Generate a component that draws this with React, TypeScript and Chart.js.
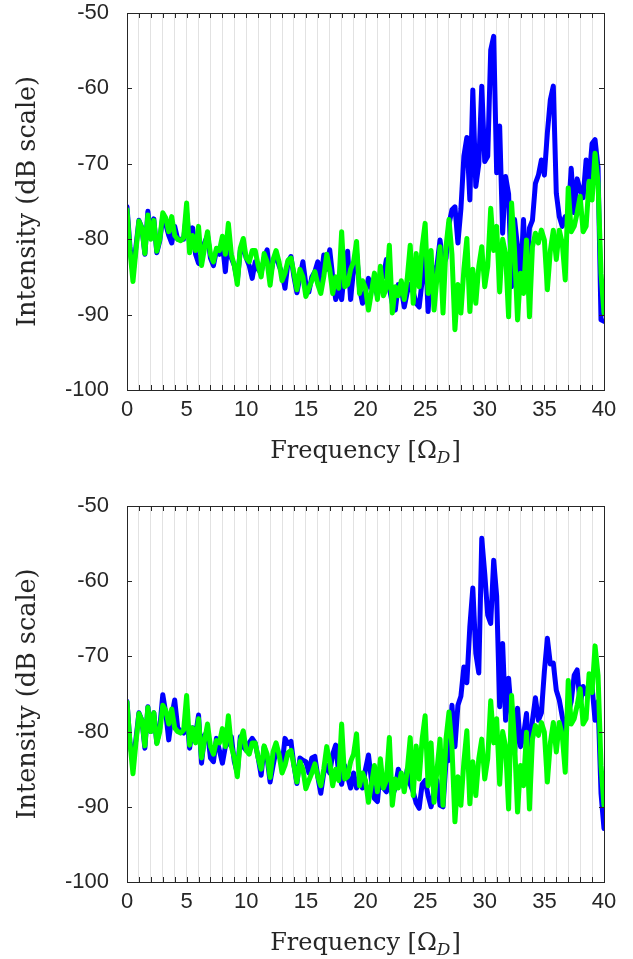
import React, { useEffect, useRef } from 'react';
import { Chart, registerables } from 'chart.js';

Chart.register(...registerables);

// Frequency grid (Omega_D), 0 .. 40 in steps of 0.25
const FREQ_STEP = 0.25;
const FREQ: number[] = Array.from({ length: 161 }, (_, i) => i * FREQ_STEP);

const X_LABEL_TICKS = [0, 5, 10, 15, 20, 25, 30, 35, 40];
const Y_TICKS = [-100, -90, -80, -70, -60, -50];

// Top panel, blue trace (dB)
const BLUE_TOP = [
  -75.7, -81.0, -84.5, -81.0, -77.5, -78.5, -82.0, -76.3, -79.5, -77.3,
  -81.8, -80.2, -77.0, -78.0, -79.5, -80.5, -78.3, -80.0, -80.0, -80.0,
  -76.5, -80.5, -78.5, -82.0, -83.2, -82.0, -80.5, -79.5, -82.5, -83.5,
  -81.5, -82.0, -80.5, -84.3, -79.5, -82.5, -83.5, -85.5, -81.5, -81.0,
  -82.5, -83.5, -85.2, -83.0, -84.0, -84.5, -82.5, -81.4, -85.0, -83.0,
  -82.0, -83.5, -84.5, -86.5, -83.0, -82.3, -85.0, -87.1, -85.0, -83.0,
  -86.0, -87.0, -85.0, -84.3, -83.0, -85.5, -82.1, -84.0, -81.4, -85.0,
  -88.0, -86.5, -88.0, -84.0, -81.6, -88.0, -84.0, -81.8, -86.5, -88.5,
  -87.0, -85.2, -86.5, -86.0, -87.5, -84.5, -85.0, -82.7, -86.5, -88.5,
  -89.4, -86.0, -86.5, -89.0, -87.0, -86.0, -87.0, -88.5, -89.0, -85.5,
  -80.5, -89.6, -84.0, -84.5, -83.4, -80.1, -83.5, -82.5, -78.0, -76.1,
  -75.7, -80.5, -76.0, -69.0, -66.5, -74.8, -60.2, -73.0, -70.0, -59.7,
  -69.7, -69.0, -54.9, -53.1, -71.2, -65.0, -79.2, -71.7, -74.0, -86.3,
  -77.4, -81.0, -85.4, -77.4, -86.3, -78.5, -77.5, -72.6, -71.5, -69.5,
  -71.5, -65.9, -61.5, -59.7, -73.9, -77.0, -78.3, -77.0, -77.0, -70.6,
  -76.5, -72.0, -73.5, -74.5, -69.5, -72.0, -67.3, -66.8, -70.5, -90.7,
  -90.9,
];

// Green trace (dB) - the same in both panels
const GREEN = [
  -76.1, -81.5, -85.6, -81.5, -77.6, -78.5, -81.9, -76.8, -80.0, -77.5,
  -81.6, -80.0, -76.5, -77.2, -79.0, -77.0, -79.5, -80.0, -80.2, -79.8,
  -75.2, -81.8, -79.5, -81.5, -78.3, -83.5, -81.2, -79.0, -82.0, -83.0,
  -81.2, -81.5, -79.6, -82.0, -77.9, -82.0, -83.5, -86.0, -81.2, -79.9,
  -82.5, -83.0, -81.5, -81.5, -83.5, -85.0, -81.9, -83.0, -86.1, -82.7,
  -81.5, -83.0, -85.5, -84.5, -82.8, -82.5, -84.5, -86.7, -84.0, -85.0,
  -87.6, -86.5, -85.5, -84.3, -86.0, -87.2, -85.0, -82.0, -84.0, -87.2,
  -85.0, -86.5, -79.0, -86.3, -86.0, -84.0, -83.0, -80.3, -87.2, -85.5,
  -86.5, -89.4, -87.0, -84.5, -88.0, -83.6, -87.5, -86.5, -80.8, -89.8,
  -86.3, -87.5, -85.5, -88.0, -85.2, -80.8, -88.5, -81.9, -86.3, -81.0,
  -77.9, -87.2, -81.5, -89.4, -85.0, -81.0, -89.8, -81.0, -77.4, -82.0,
  -92.0, -86.0, -89.8, -84.0, -79.9, -89.6, -84.0, -88.5, -83.6, -81.0,
  -86.3, -83.6, -75.9, -81.5, -78.3, -87.0, -80.0, -82.0, -90.3, -75.2,
  -81.5, -90.7, -84.5, -87.2, -80.1, -90.3, -81.0, -79.2, -80.5, -78.8,
  -80.1, -86.7, -81.5, -78.8, -82.7, -78.8, -80.5, -85.4, -73.2, -79.0,
  -78.3, -76.5, -74.3, -79.0, -78.3, -72.3, -74.8, -68.6, -72.5, -84.5,
  -89.8,
];

// Bottom panel, blue trace (dB)
const BLUE_BOTTOM = [
  -76.0, -81.5, -84.0, -81.0, -77.5, -78.5, -82.2, -76.7, -80.0, -77.5,
  -81.5, -79.5, -75.1, -77.5, -81.1, -78.0, -75.8, -79.5, -80.0, -80.2,
  -77.5, -82.2, -79.5, -80.5, -77.8, -84.2, -80.5, -80.0, -83.5, -84.0,
  -80.9, -82.5, -84.2, -82.0, -81.5, -80.7, -84.0, -85.5, -80.7, -82.0,
  -82.5, -81.5, -80.9, -81.5, -83.5, -85.8, -82.0, -83.5, -86.7, -84.5,
  -82.5, -83.0, -84.5, -80.9, -81.6, -81.3, -84.5, -86.9, -83.5, -83.8,
  -84.0, -85.5, -83.5, -83.3, -86.0, -88.2, -85.5, -84.5, -85.5, -83.0,
  -81.8, -85.5, -87.0, -84.5, -86.0, -87.5, -85.5, -87.5, -86.5, -87.5,
  -85.0, -83.1, -86.5, -88.9, -89.3, -85.0, -87.5, -88.0, -86.5, -88.5,
  -87.5, -85.0, -86.5, -87.5, -85.0, -87.0, -88.0, -89.5, -90.2, -87.0,
  -86.5, -88.5, -90.0, -88.0, -86.5, -89.8, -90.0, -84.0, -83.8, -76.5,
  -82.0, -76.5, -75.3, -71.4, -73.5, -66.0, -60.9, -69.6, -72.2, -54.3,
  -59.0, -64.5, -65.6, -57.2, -62.0, -76.7, -68.3, -78.5, -72.9, -78.0,
  -82.9, -76.9, -82.0, -80.5, -77.6, -84.4, -78.5, -75.5, -78.5, -77.5,
  -72.0, -67.6, -71.0, -70.9, -74.5, -75.8, -78.0, -80.0, -77.5, -76.0,
  -72.5, -71.8, -76.5, -74.0, -75.0, -74.5, -74.0, -78.5, -76.0, -88.2,
  -92.9,
];

const AXIS_COLOR = '#262626';
const TICK_FONT = { family: '"Liberation Sans", Arial, Helvetica, sans-serif', size: 22 };
const TITLE_FAMILY = '"DejaVu Serif", "Liberation Serif", serif';
const TITLE_SIZE = 24;
const YTITLE_SIZE = 25.5;

const matlabAxes = {
  id: 'matlabAxes',
  afterDraw(chart: any) {
    const { ctx, chartArea } = chart;
    const xs = chart.scales.x;
    const ys = chart.scales.y;
    const { left, right, top, bottom } = chartArea;
    ctx.save();
    ctx.strokeStyle = AXIS_COLOR;
    ctx.lineWidth = 1;
    ctx.beginPath();
    // inward minor ticks on top & bottom, every 1 unit
    for (let v = 0; v <= 40; v += 1) {
      const px = Math.round(xs.getPixelForValue(v)) + 0.5;
      ctx.moveTo(px, bottom);
      ctx.lineTo(px, bottom - 5);
      ctx.moveTo(px, top);
      ctx.lineTo(px, top + 5);
    }
    for (const v of Y_TICKS) {
      const py = Math.round(ys.getPixelForValue(v)) + 0.5;
      ctx.moveTo(left, py);
      ctx.lineTo(left + 5, py);
      ctx.moveTo(right, py);
      ctx.lineTo(right - 5, py);
    }
    ctx.stroke();
    ctx.strokeRect(Math.round(left) + 0.5, Math.round(top) + 0.5, Math.round(right - left), Math.round(bottom - top));

    // x-axis title with subscript
    const cx = (left + right) / 2;
    const cy = bottom + 60;
    const mainFont = `${TITLE_SIZE}px ${TITLE_FAMILY}`;
    const subFont = `italic ${Math.round(TITLE_SIZE * 0.72)}px ${TITLE_FAMILY}`;
    const p1 = 'Frequency [Ω';
    const p2 = 'D';
    const p3 = ']';
    ctx.font = mainFont;
    const w1 = ctx.measureText(p1).width;
    const w3 = ctx.measureText(p3).width;
    ctx.font = subFont;
    const w2 = ctx.measureText(p2).width;
    const total = w1 + w2 + 1 + w3;
    let x0 = cx - total / 2;
    ctx.fillStyle = AXIS_COLOR;
    ctx.textBaseline = 'alphabetic';
    ctx.textAlign = 'left';
    const base = cy + 8;
    ctx.font = mainFont;
    ctx.fillText(p1, x0, base);
    x0 += w1;
    ctx.font = subFont;
    ctx.fillText(p2, x0, base + 5);
    x0 += w2 + 1;
    ctx.font = mainFont;
    ctx.fillText(p3, x0, base);
    ctx.restore();
  },
};

function makeConfig(blue: number[], green: number[], padTop: number, xAxisHeight: number): any {
  const pts = (arr: number[]) => FREQ.map((f, i) => ({ x: f, y: arr[i] }));
  const lineStyle = {
    borderWidth: 5,
    pointRadius: 0,
    tension: 0,
    borderJoinStyle: 'round',
    borderCapStyle: 'round',
    fill: false,
  };
  return {
    type: 'line',
    data: {
      datasets: [
        { label: 'green', data: pts(green), borderColor: '#00ff00', backgroundColor: '#00ff00', ...lineStyle },
        { label: 'blue', data: pts(blue), borderColor: '#0000ff', backgroundColor: '#0000ff', ...lineStyle },
      ],
    },
    options: {
      animation: false,
      responsive: false,
      maintainAspectRatio: false,
      devicePixelRatio: 1,
      layout: { padding: { top: padTop, right: 29, left: 0, bottom: 0 } },
      plugins: { legend: { display: false }, tooltip: { enabled: false } },
      scales: {
        x: {
          type: 'linear',
          min: 0,
          max: 40,
          afterFit: (s: any) => {
            s.height = xAxisHeight;
            s.paddingLeft = 0;
            s.paddingRight = 0;
          },
          afterBuildTicks: (s: any) => {
            s.ticks = FREQ.filter((f) => Number.isInteger(f)).map((v) => ({ value: v }));
          },
          ticks: {
            autoSkip: false,
            maxRotation: 0,
            padding: 7,
            color: AXIS_COLOR,
            font: TICK_FONT,
            callback: (v: number) => (X_LABEL_TICKS.includes(v) ? String(v) : ''),
          },
          grid: {
            drawTicks: false,
            lineWidth: 1,
            color: (c: any) => (c.tick && (c.tick.value === 0 || c.tick.value === 40) ? 'rgba(0,0,0,0)' : '#e2e2e2'),
          },
          border: { display: false },
        },
        y: {
          type: 'linear',
          min: -100,
          max: -50,
          afterFit: (s: any) => {
            s.width = 127;
            s.paddingTop = 0;
            s.paddingBottom = 0;
          },
          afterBuildTicks: (s: any) => {
            s.ticks = Y_TICKS.map((v) => ({ value: v }));
          },
          ticks: {
            padding: 18,
            color: AXIS_COLOR,
            font: TICK_FONT,
          },
          grid: { display: false, drawTicks: false },
          border: { display: false },
          title: {
            display: true,
            text: 'Intensity (dB scale)',
            color: AXIS_COLOR,
            font: { family: TITLE_FAMILY, size: YTITLE_SIZE },
            padding: { top: 13, bottom: 0 },
          },
        },
      },
    },
    plugins: [matlabAxes],
  };
}

function Panel({ blue, green, height, padTop, xAxisHeight }: { blue: number[]; green: number[]; height: number; padTop: number; xAxisHeight: number }) {
  const ref = useRef<HTMLCanvasElement | null>(null);
  useEffect(() => {
    if (!ref.current) return;
    const chart = new Chart(ref.current, makeConfig(blue, green, padTop, xAxisHeight));
    return () => chart.destroy();
  }, [blue, green, padTop, xAxisHeight]);
  return (
    <div style={{ width: 633, height, position: 'relative' }}>
      <canvas ref={ref} width={633} height={height} style={{ display: 'block', width: 633, height }} />
    </div>
  );
}

export default function App() {
  useEffect(() => {
    document.body.style.margin = '0';
    document.body.style.background = '#ffffff';
  }, []);
  return (
    <div style={{ width: 633, height: 959, background: '#ffffff' }}>
      <Panel blue={BLUE_TOP} green={GREEN} height={470} padTop={13} xAxisHeight={80} />
      <Panel blue={BLUE_BOTTOM} green={GREEN} height={489} padTop={36} xAxisHeight={77} />
    </div>
  );
}
